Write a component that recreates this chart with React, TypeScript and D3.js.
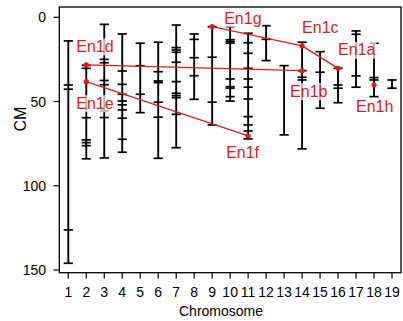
import React from "react";
import * as d3 from "d3";

// ---- data ----
const chromosomes = [1, 2, 3, 4, 5, 6, 7, 8, 9, 10, 11, 12, 13, 14, 15, 16, 17, 18, 19];
// marker positions (cM) for each chromosome; first = top of map, last = bottom
const markers: number[][] = [
  [14, 40.2, 42.7, 126.2, 146],
  [28.5, 30.3, 59.6, 72.8, 74.4, 76.2, 84],
  [4.2, 25, 27, 37.5, 40, 55.5, 59.5, 83.5],
  [9.9, 31.9, 39.8, 45.7, 49.7, 52, 55, 59.9, 72.4, 80.1],
  [15.4, 28.9, 45.7, 56.6],
  [14.8, 32.3, 37.8, 38.8, 50.4, 59.3, 83.7],
  [4.6, 18, 19.4, 20.8, 26.7, 38.2, 45.1, 46.5, 47.7, 57.6, 77.4],
  [9.9, 13.1, 24, 34.7, 48.7],
  [5.6, 23.7, 50.4, 63.9],
  [5.6, 13.3, 14.3, 15.3, 36.6, 41.2, 42.1, 47.1, 49.7],
  [9.5, 15.1, 21.4, 30.3, 36.6, 41.5, 48.5, 59, 63.9, 67.5, 72.2],
  [5, 13.1, 25.7],
  [28.7, 69.8],
  [14.8, 31.7, 35.6, 37.2, 78.1],
  [20.4, 32.6, 54],
  [30.3, 40.2, 42.1, 50.7],
  [8.1, 10.1, 34.8, 41.5],
  [15.4, 35.8, 37.2, 47.1],
  [37.2, 42.1],
];

const geneNames = ["En1a", "En1b", "En1c", "En1d", "En1e", "En1f", "En1g", "En1h"];
const geneChrom = [16, 14, 14, 2, 2, 11, 9, 18];
const genePos = [30.3, 31.7, 17, 28.3, 38.2, 70.4, 5.6, 40.2];
// duplicated pairs linked by red lines
const genePairs: [string, string][] = [
  ["En1d", "En1b"],
  ["En1e", "En1f"],
  ["En1g", "En1c"],
  ["En1c", "En1a"],
];

const yTicks = [0, 50, 100, 150];

// label offsets (pixels, from point to text left/baseline)
const labelOffset: Record<string, [number, number]> = {
  En1a: [0, -13],
  En1b: [-12, 26],
  En1c: [0, -13],
  En1d: [-10, -13],
  En1e: [-10, 27],
  En1f: [-22, 22],
  En1g: [12, -3],
  En1h: [-18, 27],
};

const W = 403;
const H = 321;
const RED = "#e41a1c";
const FONT = "'Liberation Sans', Arial, Helvetica, sans-serif";

export default function App() {
  const x = d3.scaleLinear().domain([0.5, 19.5]).range([59.3, 401]);
  const y = d3.scaleLinear().domain([-6.1, 151.6]).range([7, 272.7]);
  const capW = 4.6;

  const gene = (n: string) => {
    const i = geneNames.indexOf(n);
    return { x: x(geneChrom[i]), y: y(genePos[i]) };
  };

  const textW = (s: string) => {
    const w: Record<string, number> = { E: 0.667, n: 0.556, "1": 0.556, f: 0.278 };
    return s.split("").reduce((a, c) => a + (w[c] ?? 0.556), 0) * 16;
  };

  return (
    <div style={{ position: "absolute", left: 0, top: 0 }}>
      <svg width={W} height={H} style={{ display: "block", background: "#fff" }} fontFamily={FONT}>
        {/* chromosome bars */}
        {chromosomes.map((c, i) => {
          const m = markers[i];
          const cx = x(c);
          return (
            <g key={c} stroke="#000">
              <line x1={cx} x2={cx} y1={y(m[0])} y2={y(m[m.length - 1])} strokeWidth={1.9} />
              {m.map((v, j) => (
                <line key={j} x1={cx - capW} x2={cx + capW} y1={y(v)} y2={y(v)} strokeWidth={1.7} />
              ))}
            </g>
          );
        })}
        {/* red links */}
        {genePairs.map(([a, b], i) => {
          const p = gene(a);
          const q = gene(b);
          return <line key={i} x1={p.x} y1={p.y} x2={q.x} y2={q.y} stroke={RED} strokeWidth={1.3} />;
        })}
        {geneNames.map((n) => {
          const p = gene(n);
          return <circle key={n} cx={p.x} cy={p.y} r={2.6} fill={RED} />;
        })}
        {/* labels with translucent white background */}
        {geneNames.map((n) => {
          const p = gene(n);
          const [dx, dy] = labelOffset[n];
          const tx = p.x + dx;
          const ty = p.y + dy;
          const w = textW(n);
          return (
            <g key={n}>
              <rect x={tx - 1} y={ty - 13.5} width={w + 2} height={17} fill="#fff" fillOpacity={0.7} />
              <text x={tx} y={ty} fontSize={16} fill={RED}>
                {n}
              </text>
            </g>
          );
        })}
        {/* frame */}
        <rect x={59.3} y={7} width={401 - 59.3} height={272.7 - 7} fill="none" stroke="#000" strokeWidth={1.3} />
        {/* y axis */}
        {yTicks.map((t) => (
          <g key={t}>
            <line x1={53.5} x2={59.3} y1={y(t)} y2={y(t)} stroke="#000" strokeWidth={1.2} />
            <text x={46} y={y(t) + 5} fontSize={14} textAnchor="end" fill="#000">
              {t}
            </text>
          </g>
        ))}
        {/* x axis */}
        {chromosomes.map((c) => (
          <g key={c}>
            <line x1={x(c)} x2={x(c)} y1={272.7} y2={278.5} stroke="#000" strokeWidth={1.2} />
            <text x={x(c)} y={296.7} fontSize={14} textAnchor="middle" fill="#000">
              {c}
            </text>
          </g>
        ))}
        <text x={221} y={315.5} fontSize={14} textAnchor="middle" fill="#000">
          Chromosome
        </text>
        <text transform="translate(25.5,119) rotate(-90)" fontSize={16} textAnchor="middle" fill="#000">
          CM
        </text>
      </svg>
    </div>
  );
}
